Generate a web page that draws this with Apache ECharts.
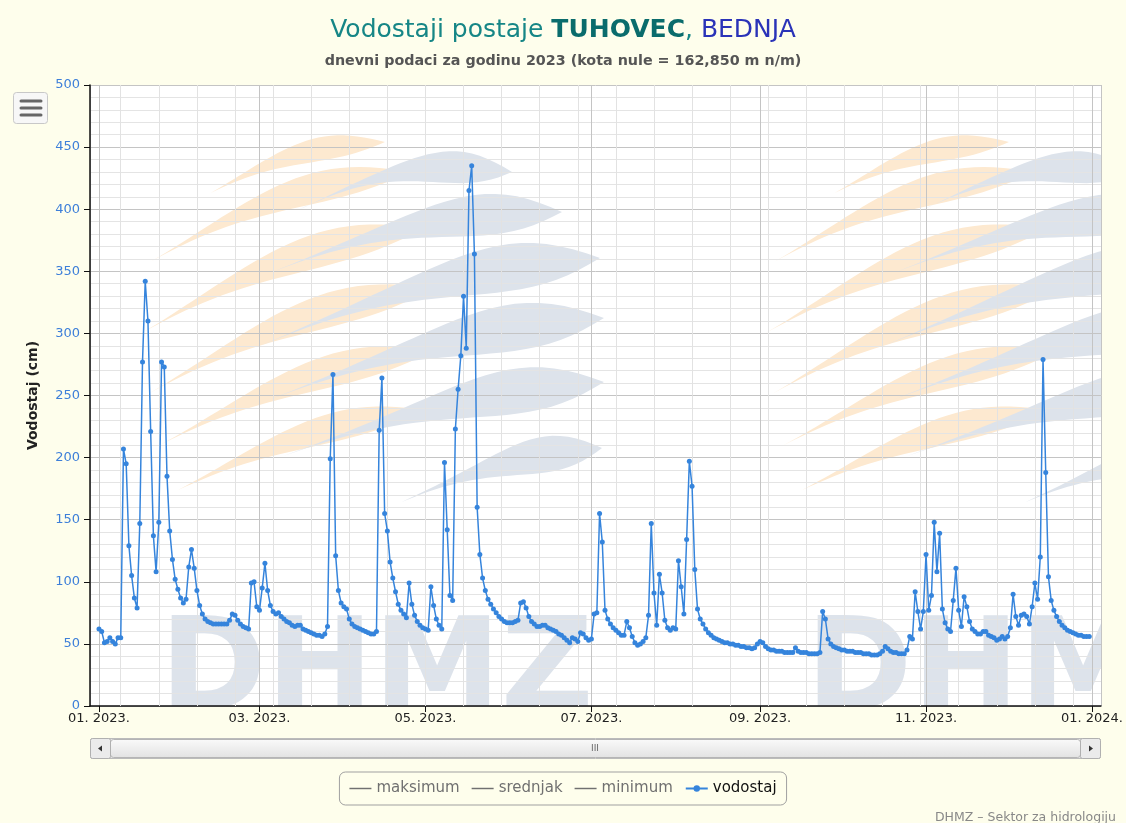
<!DOCTYPE html>
<html><head><meta charset="utf-8">
<script src="https://cdn.jsdelivr.net/npm/echarts@6/dist/echarts.min.js"></script>
<style>html,body{margin:0;padding:0;background:#fefeec;}#c{width:1126px;height:823px;}</style>
</head><body><div id="c"></div>
<script>
// ---- data (daily water level, cm) ----
const jan = [62,60,51,52,55,52,50,55,55,207,195,129,105,87,79,147,277,342,310,221,137,108,148,277,273,185,141,118,102,94,87];
const feb = [83,86,112,126,111,93,81,74,70,68,67,66,66,66,66,66,66,69,74,73,69,66,64,63,62,99,100,80];
const mar = [77,95,115,93,81,76,74,75,72,70,68,67,65,64,65,65,62,61,60,59,58,57,57,56,58,64,199,267,121,93,83];
const apr = [80,78,70,66,64,63,62,61,60,59,58,58,60,222,264,155,141,116,103,92,82,77,74,71,99,82,73,68,65,63];
const may = [62,61,96,81,70,65,62,196,142,89,85,223,255,282,330,288,415,435,364,160,122,103,93,86,82,78,75,72,70,68,67];
const jun = [67,67,68,69,83,84,79,72,68,66,64,64,65,65,63,62,61,60,58,57,55,53,51,55,54,52,59,58,55,53];
const jul = [54,74,75,155,132,77,70,66,63,61,59,57,57,68,63,56,51,49,50,52,55,73,147,91,65,106,91,69,63,61,63];
const aug = [62,117,96,74,134,197,177,110,78,70,66,62,59,57,55,54,53,52,51,51,50,50,49,49,48,48,47,47,46,47,50];
const sep = [52,51,48,46,45,45,44,44,44,43,43,43,43,47,44,43,43,43,42,42,42,42,43,76,70,54,50,48,47,46];
const oct = [45,45,44,44,44,43,43,43,42,42,42,41,41,41,42,44,48,46,44,43,43,42,42,42,45,56,54,92,76,62,76];
const nov = [122,77,89,148,108,139,78,67,62,60,85,111,77,64,88,80,68,62,60,58,58,60,60,57,56,55,53,54,56,54];
const dec = [56,63,90,72,65,73,74,72,66,80,99,86,120,279,188,104,85,77,72,68,65,63,61,60,59,58,57,57,56,56,56];
const monthly = [jan,feb,mar,apr,may,jun,jul,aug,sep,oct,nov,dec];
const year = 2023;
const yTicks = {min: 0, max: 500, step: 50};
const seriesNames = ['maksimum','srednjak','minimum','vodostaj'];
const titleParts = ['Vodostaji postaje ', 'TUHOVEC', ', ', 'BEDNJA'];
const subtitleText = 'dnevni podaci za godinu 2023 (kota nule = 162,850 m n/m)';
const yAxisName = 'Vodostaj (cm)';
const creditText = 'DHMZ \u2013 Sektor za hidrologiju';

// ---- build ----
const DAY = 86400000;
const levels = [];
monthly.forEach((arr, m) => arr.forEach((v, i) => levels.push([new Date(year, m, i + 1).getTime(), v])));
const tStart = new Date(year, 0, 1).getTime();
const tEnd = new Date(year + 1, 0, 1).getTime();
const pad = 3.3 * DAY;
const minorLines = [];
for (let t = new Date(year, 0, 9).getTime(); t < tEnd; t += 14 * DAY) minorLines.push({xAxis: t});

const G = {left: 90, right: 25, top: 85, bottom: 117};
const W = 1126, H = 823;
const px0 = G.left, px1 = W - G.right, py0 = G.top, py1 = H - G.bottom;
const FF = 'DejaVu Sans';
const BG = '#fefeec';
const markBlue = '#dde3eb';
const markOrange = '#fde9d0';

// decorative watermark (logo swooshes)
function leaf(x1, y1, x2, y2, w, bow, p) {
  const dx = x2 - x1, dy = y2 - y1, len = Math.hypot(dx, dy);
  const nx = dy / len, ny = -dx / len;
  const up = [], lo = [];
  const N = 30;
  for (let i = 0; i <= N; i++) {
    const t = i / N;
    const cx = x1 + dx * t + nx * bow * Math.sin(Math.PI * t);
    const cy = y1 + dy * t + ny * bow * Math.sin(Math.PI * t);
    const h = (w / 2) * Math.sin(Math.PI * Math.pow(t, p));
    up.push([cx + nx * h, cy + ny * h]);
    lo.push([cx - nx * h * 0.8, cy - ny * h * 0.8]);
  }
  return up.concat(lo.reverse());
}
const orangeLeaves = [[205,196,385,142,26,12],[150,262,410,172,34,16],[140,334,425,228,38,16],[148,394,435,288,38,16],[158,446,435,350,36,14],[170,494,425,410,32,12]];
const blueLeaves = [[298,210,512,172,36,18],[262,276,562,212,46,16],[250,350,600,258,52,16],[258,404,604,318,52,14],[272,460,604,382,50,12],[388,508,602,448,40,10]];
const logoOffsets = [0, 624];
const watermark = [];
logoOffsets.forEach(ox => {
  orangeLeaves.forEach(l => watermark.push({type: 'polygon', z: -6, silent: true, shape: {points: leaf(l[0] + ox, l[1], l[2] + ox, l[3], l[4], l[5], 1.8)}, style: {fill: markOrange}}));
  blueLeaves.forEach(l => watermark.push({type: 'polygon', z: -5, silent: true, shape: {points: leaf(l[0] + ox, l[1], l[2] + ox, l[3], l[4], l[5], 2.4)}, style: {fill: markBlue}}));
});

const chart = echarts.init(document.getElementById('c'), null, {renderer: 'canvas'});
const fmt = v => { const d = new Date(v); return String(d.getMonth() + 1).padStart(2, '0') + '. ' + d.getFullYear() + '.'; };

const graphic = [
  {type: 'rect', z: -10, shape: {x: px0, y: py0, width: px1 - px0, height: py1 - py0}, style: {fill: '#ffffff'}, silent: true}
].concat(watermark).concat([
  {type: 'text', z: -5, x: 160, y: py1 + 34, style: {text: 'DHMZ', font: 'bold 128px "DejaVu Sans"', fill: markBlue, textVerticalAlign: 'bottom'}, silent: true},
  {type: 'text', z: -5, x: 806, y: py1 + 34, style: {text: 'DHMZ', font: 'bold 128px "DejaVu Sans"', fill: markBlue, textVerticalAlign: 'bottom'}, silent: true},
  {type: 'rect', z: -4, shape: {x: px1 + 1, y: py0 - 2, width: W - px1, height: py1 - py0 + 10}, style: {fill: BG}, silent: true},
  {type: 'rect', z: -4, shape: {x: px0, y: py1 + 1, width: px1 - px0 + 2, height: 30}, style: {fill: BG}, silent: true},
  // menu button
  {type: 'rect', shape: {x: 13.5, y: 92.5, width: 34, height: 31, r: 3}, style: {fill: '#f7f7f7', stroke: '#c8c8c8', lineWidth: 1}},
  {type: 'line', shape: {x1: 21, y1: 101, x2: 41, y2: 101}, style: {stroke: '#666', lineWidth: 3, lineCap: 'round'}},
  {type: 'line', shape: {x1: 21, y1: 108, x2: 41, y2: 108}, style: {stroke: '#666', lineWidth: 3, lineCap: 'round'}},
  {type: 'line', shape: {x1: 21, y1: 115, x2: 41, y2: 115}, style: {stroke: '#666', lineWidth: 3, lineCap: 'round'}},
  // scrollbar
  {type: 'rect', shape: {x: 90.5, y: 738.5, width: 1010, height: 20, r: 2}, style: {fill: '#f0f0f0', stroke: '#bbbbbb', lineWidth: 1}},
  {type: 'rect', shape: {x: 110.5, y: 739.5, width: 970, height: 18, r: 3}, style: {fill: new echarts.graphic.LinearGradient(0, 0, 0, 1, [{offset: 0, color: '#fafafa'}, {offset: 1, color: '#e2e2e2'}]), stroke: '#b5b5b5', lineWidth: 1}},
  {type: 'text', x: 595, y: 748.5, style: {text: 'III', font: '9px "DejaVu Sans"', fill: '#666', textAlign: 'center', textVerticalAlign: 'middle'}},
  {type: 'rect', shape: {x: 90.5, y: 738.5, width: 20, height: 20, r: 2}, style: {fill: '#ebebeb', stroke: '#b0b0b0', lineWidth: 1}},
  {type: 'polygon', shape: {points: [[98, 748.5], [102, 745.5], [102, 751.5]]}, style: {fill: '#333'}},
  {type: 'rect', shape: {x: 1080.5, y: 738.5, width: 20, height: 20, r: 2}, style: {fill: '#ebebeb', stroke: '#b0b0b0', lineWidth: 1}},
  {type: 'polygon', shape: {points: [[1093, 748.5], [1089, 745.5], [1089, 751.5]]}, style: {fill: '#333'}},
  // credit
  {type: 'text', right: 10, top: 811, style: {text: creditText, font: '12.5px "DejaVu Sans"', fill: '#888'}}
]);

const lineIcon = 'path://M0,0H30V2H0Z';
const option = {
  backgroundColor: BG,
  animation: false,
  title: [
    {text: '{a|' + titleParts[0] + '}{b|' + titleParts[1] + '}{a|' + titleParts[2] + '}{c|' + titleParts[3] + '}', left: 'center', top: 13,
     textStyle: {rich: {a: {fontFamily: FF, fontSize: 25, fontWeight: 'normal', color: '#168686'}, b: {fontFamily: FF, fontSize: 25, fontWeight: 'bold', color: '#0a6c6c'}, c: {fontFamily: FF, fontSize: 25, fontWeight: 'normal', color: '#2a33b8'}}}},
    {text: subtitleText, left: 'center', top: 49, textStyle: {fontFamily: FF, fontSize: 14.3, fontWeight: 'bold', color: '#555'}}
  ],
  legend: {
    data: [{name: seriesNames[0], icon: lineIcon}, {name: seriesNames[1], icon: lineIcon}, {name: seriesNames[2], icon: lineIcon}, {name: seriesNames[3]}],
    left: 'center', top: 772, orient: 'horizontal',
    borderColor: '#a0a0a0', borderWidth: 1, borderRadius: 6, padding: [9, 10, 9, 10],
    itemWidth: 22, itemHeight: 8, itemGap: 12,
    textStyle: {fontFamily: FF, fontSize: 15, color: '#111'},
    inactiveColor: '#707070', inactiveBorderColor: '#707070',
    selected: {maksimum: false, srednjak: false, minimum: false}
  },
  grid: {left: G.left, right: G.right, top: G.top, bottom: G.bottom, containLabel: false},
  xAxis: {
    type: 'time', min: tStart - pad, max: tEnd + pad, splitNumber: 5,
    axisLine: {show: true, lineStyle: {color: '#111', width: 1.5}},
    axisTick: {show: true, length: 6, lineStyle: {color: '#111'}},
    axisLabel: {formatter: fmt, color: '#222', fontSize: 13, fontFamily: FF, margin: 6, hideOverlap: false},
    splitLine: {show: true, lineStyle: {color: '#c4c4c4'}},
    minorTick: {show: false}, minorSplitLine: {show: false}
  },
  yAxis: {
    type: 'value', min: yTicks.min, max: yTicks.max, interval: yTicks.step,
    name: yAxisName, nameLocation: 'middle', nameGap: 50,
    nameTextStyle: {fontFamily: FF, fontSize: 14, fontWeight: 'bold', color: '#222'},
    axisLine: {show: true, lineStyle: {color: '#111', width: 1.5}},
    axisTick: {show: true, length: 6, lineStyle: {color: '#111'}},
    axisLabel: {color: '#3d7fd9', fontSize: 13, fontFamily: FF, margin: 10},
    splitLine: {show: true, lineStyle: {color: '#c4c4c4'}},
    minorTick: {show: false, splitNumber: 5},
    minorSplitLine: {show: true, lineStyle: {color: '#e4e4e4'}}
  },
  series: [
    {name: 'maksimum', type: 'line', data: [], symbol: 'none', lineStyle: {color: '#888'}, itemStyle: {color: '#888'}},
    {name: 'srednjak', type: 'line', data: [], symbol: 'none', lineStyle: {color: '#888'}, itemStyle: {color: '#888'}},
    {name: 'minimum', type: 'line', data: [], symbol: 'none', lineStyle: {color: '#888'}, itemStyle: {color: '#888'}},
    {name: 'grid-minor', type: 'line', data: [], silent: true, z: 1,
     markLine: {silent: true, symbol: ['none', 'none'], label: {show: false}, animation: false,
       lineStyle: {color: '#e2e2e2', type: 'solid', width: 1}, emphasis: {disabled: true}, data: minorLines}},
    {name: 'vodostaj', type: 'line', data: levels, z: 5, symbol: 'circle', symbolSize: 5, showSymbol: true,
     lineStyle: {width: 1.5, color: '#3584dc'}, itemStyle: {color: '#3584dc'}}
  ],
  graphic: graphic
};
chart.setOption(option);
</script></body></html>
